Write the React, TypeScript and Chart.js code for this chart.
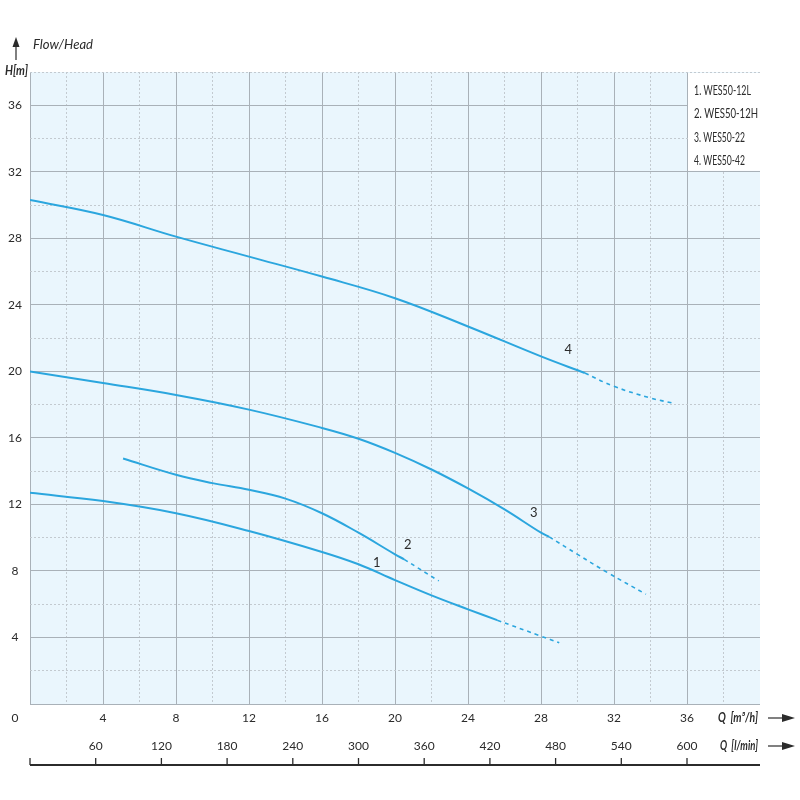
import { useEffect, useRef } from "react";
import { Chart, registerables } from "chart.js";

Chart.register(...registerables);

// curve 1 - WES50-12L
const q1 = [0, 4, 8, 12, 16, 18, 20, 22, 24, 25.6];
const h1 = [12.7, 12.2, 11.47, 10.4, 9.14, 8.4, 7.45, 6.53, 5.69, 5.04];
const q1d = [25.6, 28, 29];
const h1d = [5.04, 4.08, 3.68];

// curve 2 - WES50-12H
const q2 = [5.1, 8, 10, 12, 14, 16, 18, 20, 20.5];
const h2 = [14.76, 13.78, 13.28, 12.88, 12.35, 11.47, 10.3, 9.0, 8.7];
const q2d = [20.5, 22.4];
const h2d = [8.7, 7.4];

// curve 3 - WES50-22
const q3 = [0, 4, 8, 12, 16, 18, 20, 22, 24, 26, 28, 28.45];
const h3 = [20.0, 19.3, 18.58, 17.7, 16.6, 15.95, 15.1, 14.1, 12.96, 11.7, 10.3, 10.05];
const q3d = [28.45, 30, 31.65, 33.75];
const h3d = [10.05, 9.0, 7.9, 6.6];

// curve 4 - WES50-42
const q4 = [0, 4, 8, 12, 16, 20, 24, 28, 30.4];
const h4 = [30.3, 29.4, 28.1, 26.9, 25.7, 24.4, 22.7, 20.9, 19.9];
const q4d = [30.4, 32, 34, 35.2];
const h4d = [19.9, 19.1, 18.4, 18.1];

const curveNames = ["1", "2", "3", "4"];
const labelQ = [19.0, 20.7, 27.6, 29.5];
const labelH = [8.5, 9.55, 11.5, 21.3];

const legendItems = ["1. WES50-12L", "2. WES50-12H", "3. WES50-22", "4. WES50-42"];
const legendWidths = [57, 64, 51, 51];

const xTicks = [4, 8, 12, 16, 20, 24, 28, 32, 36];
const yTicks = [4, 8, 12, 16, 20, 24, 28, 32, 36];
const lpmTicks = [0, 60, 120, 180, 240, 300, 360, 420, 480, 540, 600];

const LINE = "#2ba6de";
const SOLID_GRID = "#a9b1b8";
const DOT_GRID = "#c3cad0";
const TEXT = "#2b2b2b";
const FONT = "Lato, 'Noto Sans', sans-serif";

const pts = (qs: number[], hs: number[]) => qs.map((q, i) => ({ x: q, y: hs[i] }));

const arrowRight = (ctx: CanvasRenderingContext2D, x0: number, x1: number, y: number) => {
  ctx.beginPath();
  ctx.moveTo(x0, y);
  ctx.lineTo(x1 - 8, y);
  ctx.stroke();
  ctx.beginPath();
  ctx.moveTo(x1, y);
  ctx.lineTo(x1 - 13, y - 4);
  ctx.lineTo(x1 - 13, y + 4);
  ctx.closePath();
  ctx.fill();
};

const decor = {
  id: "decor",
  beforeDraw(chart: any) {
    const { ctx, chartArea } = chart;
    ctx.save();
    ctx.fillStyle = "#eaf6fd";
    ctx.fillRect(chartArea.left, chartArea.top, chartArea.right - chartArea.left, chartArea.bottom - chartArea.top);
    ctx.restore();
  },
  beforeDatasetsDraw(chart: any) {
    const { ctx, chartArea, scales } = chart;
    const x36 = scales.x.getPixelForValue(36);
    const y32 = scales.y.getPixelForValue(32);
    ctx.save();
    ctx.fillStyle = "#ffffff";
    ctx.fillRect(x36 + 1, chartArea.top + 1, chartArea.right - x36 + 2, y32 - chartArea.top - 2);
    ctx.restore();
  },
  afterDraw(chart: any) {
    const { ctx, chartArea, scales } = chart;
    const xs = scales.x;
    const ys = scales.y;
    ctx.save();
    ctx.fillStyle = TEXT;
    ctx.strokeStyle = TEXT;

    // y tick labels
    ctx.font = `12px ${FONT}`;
    ctx.textAlign = "center";
    ctx.textBaseline = "middle";
    yTicks.forEach((v) => ctx.fillText(String(v), 15, ys.getPixelForValue(v)));

    // x tick labels (m3/h)
    const xLabelY = chartArea.bottom + 14;
    ctx.fillText("0", 15, xLabelY);
    xTicks.forEach((v) => ctx.fillText(String(v), xs.getPixelForValue(v), xLabelY));

    // l/min axis
    const lineY = chartArea.bottom + 61;
    const lpmLabelY = chartArea.bottom + 42;
    ctx.lineWidth = 2;
    ctx.beginPath();
    ctx.moveTo(chartArea.left, lineY);
    ctx.lineTo(chartArea.right, lineY);
    ctx.stroke();
    ctx.lineWidth = 1.3;
    lpmTicks.forEach((v) => {
      const px = xs.getPixelForValue((v * 60) / 1000);
      ctx.beginPath();
      ctx.moveTo(px, lineY);
      ctx.lineTo(px, lineY - 7);
      ctx.stroke();
      if (v > 0) ctx.fillText(String(v), px, lpmLabelY);
    });

    // axis titles
    ctx.font = `italic bold 12.5px ${FONT}`;
    ctx.textAlign = "left";
    ctx.fillText("Q  [m³/h]", 718, xLabelY, 40);
    ctx.fillText("Q  [l/min]", 720, lpmLabelY, 38);
    ctx.lineWidth = 1.2;
    arrowRight(ctx, 768, 795, xLabelY);
    arrowRight(ctx, 768, 795, lpmLabelY);

    ctx.fillText("H[m]", 5, chartArea.top - 1, 23);
    ctx.font = `italic 13.5px ${FONT}`;
    ctx.fillText("Flow/Head", 33, 45, 60);
    ctx.beginPath();
    ctx.moveTo(16, 60);
    ctx.lineTo(16, 44);
    ctx.stroke();
    ctx.beginPath();
    ctx.moveTo(16, 37);
    ctx.lineTo(12.5, 47);
    ctx.lineTo(19.5, 47);
    ctx.closePath();
    ctx.fill();

    // legend text
    ctx.font = `14px ${FONT}`;
    const ly = [90, 113.5, 137, 160.5];
    legendItems.forEach((t, i) => ctx.fillText(t, xs.getPixelForValue(36) + 7, ly[i], legendWidths[i]));

    // curve labels
    ctx.font = `13px ${FONT}`;
    ctx.textAlign = "center";
    curveNames.forEach((n, i) => ctx.fillText(n, xs.getPixelForValue(labelQ[i]), ys.getPixelForValue(labelH[i])));

    ctx.restore();
  },
};

const App = () => {
  const chartRef = useRef<HTMLCanvasElement | null>(null);
  const chartInstance = useRef<Chart | null>(null);

  useEffect(() => {
    if (!chartRef.current) return;
    const ctx = chartRef.current.getContext("2d");
    if (!ctx) return;

    const solid = (qs: number[], hs: number[]) => ({
      data: pts(qs, hs),
      borderColor: LINE,
      borderWidth: 2,
      pointRadius: 0,
      fill: false,
      tension: 0.4,
    });
    const dashed = (qs: number[], hs: number[]) => ({
      ...solid(qs, hs),
      borderWidth: 1.6,
      borderDash: [4, 4],
    });

    chartInstance.current = new Chart(ctx, {
      type: "line",
      data: {
        datasets: [
          solid(q1, h1),
          dashed(q1d, h1d),
          solid(q2, h2),
          dashed(q2d, h2d),
          solid(q3, h3),
          dashed(q3d, h3d),
          solid(q4, h4),
          dashed(q4d, h4d),
        ],
      },
      options: {
        animation: false,
        responsive: false,
        layout: { padding: { left: 30, right: 40, top: 72, bottom: 96 } },
        plugins: { legend: { display: false }, tooltip: { enabled: false } },
        scales: {
          x: {
            type: "linear",
            min: 0,
            max: 40,
            ticks: { display: false, stepSize: 2 },
            grid: {
              drawTicks: false,
              color: (c: any) => (c.tick.value === 40 ? "rgba(0,0,0,0)" : c.tick.value % 4 === 0 ? SOLID_GRID : DOT_GRID),
              lineWidth: 1,
            },
            border: { display: false, dash: (c: any) => (c.tick && c.tick.value % 4 !== 0 ? [2, 2] : []) },
            afterFit: (s: any) => {
              s.height = 0;
            },
          },
          y: {
            min: 0,
            max: 38,
            ticks: { display: false, stepSize: 2 },
            grid: {
              drawTicks: false,
              color: (c: any) => (c.tick.value % 4 === 0 ? SOLID_GRID : DOT_GRID),
              lineWidth: 1,
            },
            border: { display: false, dash: (c: any) => (c.tick && c.tick.value % 4 !== 0 ? [2, 2] : []) },
            afterFit: (s: any) => {
              s.width = 0;
            },
          },
        },
      },
      plugins: [decor],
    });

    return () => {
      if (chartInstance.current) chartInstance.current.destroy();
    };
  }, []);

  return (
    <div style={{ position: "fixed", left: 0, top: 0, width: 800, height: 800, background: "#fff" }}>
      <canvas ref={chartRef} width="800" height="800"></canvas>
    </div>
  );
};

export default App;
